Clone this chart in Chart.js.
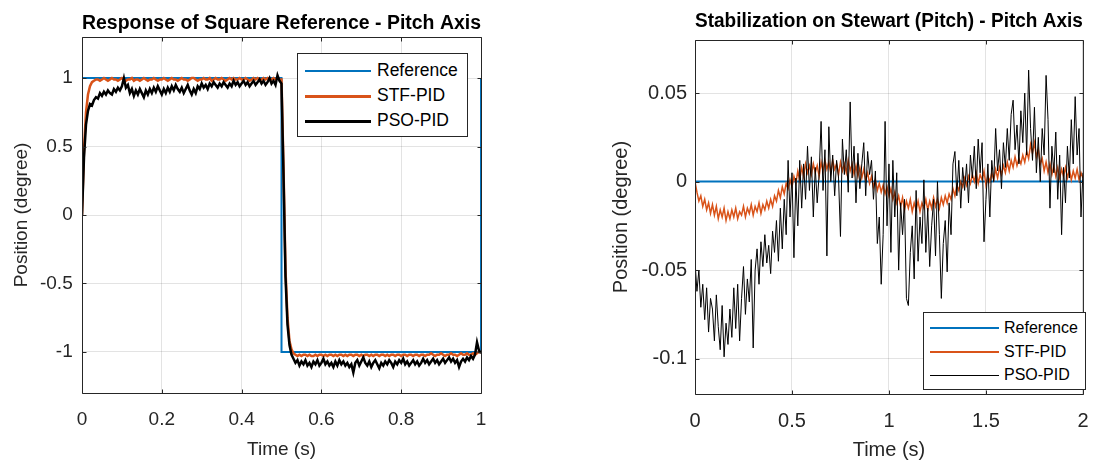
<!DOCTYPE html>
<html>
<head>
<meta charset="utf-8">
<script src="https://cdn.jsdelivr.net/npm/chart.js@4.4.1/dist/chart.umd.min.js"></script>
<style>
  body { margin: 0; background: #fff; width: 1104px; height: 462px; position: relative; overflow: hidden;
         font-family: "Liberation Sans", Arial, sans-serif; }
  canvas { position: absolute; top: 0; }
  .legend { position: absolute; background: #fff; border: 1px solid #262626; box-sizing: border-box; }
  .legend .sw { position: absolute; }
  .legend .txt { position: absolute; color: #000; white-space: nowrap; line-height: 1; transform: translateY(-50%); }
</style>
</head>
<body>
<canvas id="leftChart" width="552" height="462" style="left:0"></canvas>
<canvas id="rightChart" width="552" height="462" style="left:552px"></canvas>
<div id="leftLegend" class="legend" style="left:297px;top:53px;width:171px;height:84px"></div>
<div id="rightLegend" class="legend" style="left:923px;top:312px;width:163px;height:78px"></div>
<script>
// ---- left plot: square reference response ----
const leftXTicks = [0, 0.2, 0.4, 0.6, 0.8, 1];
const leftYTicks = [-1, -0.5, 0, 0.5, 1];
const leftRefTime = [0, 0, 0.5, 0.5, 1, 1];
const leftRefVal = [0, 1, 1, -1, -1, 1];
const leftStep = 0.005;   // sample spacing of the two responses (s)
const leftStf = [
  0, 0.48, 0.75, 0.88, 0.94, 0.97, 0.98, 0.99,
  0.99, 0.98, 0.99, 1.00, 0.99, 0.98, 0.99, 1.00, 0.99, 0.99, 0.98, 0.99,
  1.00, 0.99, 0.98, 0.99, 0.99, 1.00, 0.98, 0.99, 0.99, 0.98, 0.99, 1.00, 0.99, 0.98, 0.99, 0.99, 1.00, 0.99, 0.98, 0.99,
  0.99, 1.00, 0.99, 0.98, 0.99, 1.00, 0.99, 0.99, 0.98, 0.99, 1.00, 0.99, 0.99, 0.98, 0.99, 1.00, 1.00, 0.99, 0.98, 0.99,
  0.99, 1.00, 0.99, 0.99, 1.00, 0.98, 0.99, 1.00, 0.99, 0.99, 1.00, 0.99, 0.98, 0.99, 1.00, 0.99, 1.00, 0.99, 0.99, 1.00,
  0.99, 0.99, 1.00, 0.99, 0.98, 0.99, 1.00, 0.99, 1.00, 0.99, 0.99, 1.00, 0.99, 1.00, 0.99, 0.99, 1.00, 0.99, 1.00, 0.99,
  0.99,
  0.35, -0.40, -0.75, -0.92, -0.98, -1.01, -1.02,
  -1.03, -1.02, -1.03, -1.02, -1.02, -1.03, -1.02, -1.03, -1.03, -1.02, -1.03, -1.02, -1.02, -1.03, -1.02, -1.03, -1.02, -1.02, -1.03, -1.02,
  -1.03, -1.02, -1.02, -1.03, -1.02, -1.03, -1.02, -1.02, -1.03, -1.02, -1.02, -1.03, -1.02, -1.03, -1.02, -1.02, -1.03, -1.02, -1.03, -1.02,
  -1.02, -1.03, -1.02, -1.02, -1.03, -1.02, -1.03, -1.02, -1.02, -1.03, -1.02, -1.02, -1.03, -1.02, -1.02, -1.03, -1.02, -1.02, -1.03, -1.02,
  -1.02, -1.03, -1.02, -1.02, -1.03, -1.02, -1.02, -1.01, -1.02, -1.03, -1.02, -1.02, -1.01, -1.02, -1.03, -1.02, -1.02, -1.01, -1.02, -1.02,
  -1.03, -1.02, -1.01, -1.02, -1.02, -1.01, -1.02, -1.02, -1.01, -1.02, -1.01, -1.00, -1.00
];
const leftPso = [
  0, 0.42, 0.66, 0.76, 0.81, 0.80, 0.84, 0.86, 0.85, 0.89, 0.87, 0.90, 0.88, 0.91, 0.89, 0.88, 0.92, 0.90, 0.93, 0.91,
  0.94, 1.00, 0.93, 0.95, 0.89, 0.92, 0.87, 0.91, 0.88, 0.92, 0.89, 0.86, 0.91, 0.88, 0.92, 0.89, 0.93, 0.90, 0.94, 0.91,
  0.88, 0.92, 0.89, 0.93, 0.90, 0.94, 0.91, 0.95, 0.92, 0.90, 0.93, 0.89, 0.92, 0.95, 0.91, 0.88, 0.92, 0.89, 0.94, 0.92,
  0.96, 0.93, 0.95, 0.92, 0.96, 0.94, 0.97, 0.95, 0.93, 0.96, 0.94, 0.97, 0.95, 0.93, 0.96, 0.94, 0.98, 0.95, 0.97, 0.94,
  0.96, 0.98, 0.95, 0.97, 0.94, 0.96, 0.98, 0.95, 0.97, 0.99, 0.96, 0.98, 0.95, 0.97, 1.00, 0.96, 0.98, 0.95, 1.02, 0.98,
  0.96, 0.30, -0.45, -0.80, -0.95, -1.02, -1.05, -1.08, -1.06, -1.10, -1.07, -1.09, -1.06, -1.10, -1.08, -1.11, -1.07, -1.09, -1.06, -1.10,
  -1.08, -1.05, -1.09, -1.07, -1.10, -1.08, -1.11, -1.07, -1.10, -1.06, -1.09, -1.07, -1.10, -1.08, -1.11, -1.09, -1.15, -1.08, -1.06, -1.10,
  -1.07, -1.04, -1.08, -1.10, -1.07, -1.11, -1.08, -1.06, -1.09, -1.12, -1.08, -1.10, -1.07, -1.09, -1.06, -1.08, -1.11, -1.07, -1.09, -1.06,
  -1.08, -1.05, -1.09, -1.07, -1.10, -1.08, -1.06, -1.09, -1.07, -1.10, -1.08, -1.05, -1.08, -1.06, -1.09, -1.07, -1.05, -1.08, -1.06, -1.09,
  -1.07, -1.05, -1.08, -1.06, -1.04, -1.07, -1.05, -1.08, -1.06, -1.11, -1.07, -1.05, -1.07, -1.04, -1.06, -1.03, -1.05, -1.02, -0.93, -0.99, -1.01
];

// ---- right plot: stabilization on stewart ----
const rightXTicks = [0, 0.5, 1, 1.5, 2];
const rightYTicks = [-0.1, -0.05, 0, 0.05];
const rightRefTime = [0, 2];
const rightRefVal = [0, 0];
const rightStep = 0.01;
const rightStf = [
  0.000, -0.006, -0.011, -0.008, -0.014, -0.010, -0.016, -0.012, -0.018, -0.013,
  -0.019, -0.014, -0.021, -0.016, -0.020, -0.015, -0.022, -0.017, -0.021, -0.016,
  -0.020, -0.015, -0.021, -0.017, -0.019, -0.014, -0.020, -0.015, -0.018, -0.013,
  -0.019, -0.014, -0.017, -0.012, -0.018, -0.013, -0.016, -0.011, -0.015, -0.010,
  -0.014, -0.008, -0.011, -0.005, -0.009, -0.003, -0.007, -0.001, -0.004, 0.001,
  -0.003, 0.003, -0.001, 0.006, 0.001, 0.008, 0.003, 0.010, 0.005, 0.009,
  0.004, 0.010, 0.005, 0.009, 0.003, 0.011, 0.006, 0.012, 0.007, 0.011,
  0.005, 0.012, 0.007, 0.010, 0.004, 0.011, 0.006, 0.010, 0.005, 0.012,
  0.006, 0.010, 0.004, 0.009, 0.003, 0.008, 0.002, 0.007, 0.001, 0.005,
  -0.001, 0.003, -0.003, 0.001, -0.005, -0.001, -0.006, -0.002, -0.007, -0.003,
  -0.008, -0.004, -0.010, -0.006, -0.012, -0.008, -0.014, -0.009, -0.016, -0.011,
  -0.015, -0.010, -0.017, -0.012, -0.016, -0.011, -0.017, -0.012, -0.015, -0.010,
  -0.016, -0.011, -0.015, -0.009, -0.014, -0.010, -0.015, -0.009, -0.013, -0.008,
  -0.012, -0.007, -0.010, -0.004, -0.008, -0.002, -0.005, 0.000, -0.003, 0.002,
  -0.002, 0.003, -0.001, 0.004, 0.000, 0.005, -0.001, 0.004, 0.001, 0.006,
  -0.002, 0.003, 0.000, 0.005, 0.001, 0.007, 0.002, 0.008, 0.004, 0.009,
  0.005, 0.011, 0.006, 0.012, 0.008, 0.014, 0.009, 0.013, 0.010, 0.015,
  0.011, 0.017, 0.013, 0.021, 0.016, 0.022, 0.014, 0.018, 0.010, 0.013,
  0.006, 0.011, 0.005, 0.010, 0.004, 0.009, 0.003, 0.008, 0.002, 0.007,
  0.003, 0.008, 0.002, 0.007, 0.001, 0.006, 0.002, 0.007, 0.001, 0.005,
  0.002
];
const rightPso = [
  -0.045, -0.062, -0.050, -0.071, -0.058, -0.078, -0.060, -0.085, -0.066, -0.072,
  -0.090, -0.064, -0.082, -0.095, -0.070, -0.099, -0.080, -0.092, -0.072, -0.088,
  -0.060, -0.083, -0.058, -0.090, -0.066, -0.048, -0.075, -0.055, -0.068, -0.044,
  -0.094, -0.050, -0.038, -0.058, -0.034, -0.048, -0.030, -0.046, -0.036, -0.052,
  -0.028, -0.040, -0.022, -0.045, -0.015, -0.038, -0.010, -0.030, 0.012, -0.020,
  0.005, -0.043, 0.002, -0.025, 0.012, -0.015, 0.010, -0.010, 0.020, -0.005,
  0.014, -0.020, 0.008, -0.012, 0.004, 0.034, -0.005, 0.018, -0.042, 0.031,
  0.000, 0.015, -0.008, 0.012, 0.002, -0.031, 0.024, 0.004, 0.018, -0.006,
  0.045, 0.002, 0.020, -0.012, 0.016, -0.004, 0.010, 0.022, -0.008, 0.017,
  0.004, 0.012, -0.010, 0.006, -0.035, -0.020, -0.058, -0.030, 0.034, -0.025,
  0.010, -0.040, 0.012, -0.020, 0.005, -0.050, -0.012, -0.030, -0.010, -0.066,
  -0.070, -0.040, -0.025, -0.055, -0.005, -0.045, -0.020, -0.035, 0.001, -0.040,
  -0.015, -0.048, -0.025, -0.010, -0.042, 0.000, -0.030, -0.066, -0.035, -0.022,
  -0.051, -0.012, -0.030, 0.010, 0.017, -0.008, 0.012, -0.015, 0.008, -0.005,
  0.010, -0.012, 0.015, 0.002, 0.020, -0.004, 0.024, 0.005, 0.022, -0.034,
  -0.010, 0.010, -0.020, 0.012, 0.000, 0.030, 0.006, 0.018, -0.004, 0.022,
  0.008, 0.030, 0.012, 0.038, 0.046, 0.018, 0.032, 0.010, 0.040, 0.022,
  0.050, 0.015, 0.063, 0.030, 0.012, 0.042, 0.005, 0.025, 0.000, 0.030,
  0.015, 0.060, 0.035, -0.015, 0.020, 0.005, 0.028, -0.010, 0.015, -0.030,
  0.008, -0.012, 0.020, 0.002, 0.035, 0.010, 0.048, 0.015, 0.030, -0.020,
  0.005
];

const BLUE = '#0072BD', ORANGE = '#D95319', BLACK = '#000000';
const AXIS = '#262626', GRID = 'rgba(38,38,38,0.13)';
const FAMILY = '"Liberation Sans", Arial, sans-serif';

function pairs(times, vals) { return vals.map((v, i) => ({ x: times[i], y: v })); }
function sampled(step, vals) { return vals.map((v, i) => ({ x: i * step, y: v })); }

// matlab style box with inward ticks on all four sides
const boxPlugin = {
  id: 'matlabBox',
  afterDatasetsDraw(chart) {
    const { ctx, chartArea: a, scales } = chart;
    const L = a.left + 0.5, R = a.right + 0.5, T = a.top + 0.5, B = a.bottom + 0.5;
    ctx.save();
    ctx.strokeStyle = AXIS;
    ctx.lineWidth = 1;
    ctx.beginPath();
    ctx.rect(L, T, R - L, B - T);
    scales.x.ticks.forEach(t => {
      const px = Math.round(scales.x.getPixelForValue(t.value)) + 0.5;
      ctx.moveTo(px, B); ctx.lineTo(px, B - 4);
      ctx.moveTo(px, T); ctx.lineTo(px, T + 4);
    });
    scales.y.ticks.forEach(t => {
      const py = Math.round(scales.y.getPixelForValue(t.value)) + 0.5;
      ctx.moveTo(L, py); ctx.lineTo(L + 4, py);
      ctx.moveTo(R, py); ctx.lineTo(R - 4, py);
    });
    ctx.stroke();
    ctx.restore();
  }
};

function makeChart(id, c) {
  const tickFont = { family: FAMILY, size: c.fontSize };
  return new Chart(document.getElementById(id), {
    type: 'line',
    data: { datasets: c.datasets },
    options: {
      responsive: false,
      animation: false,
      devicePixelRatio: 1,
      layout: { padding: c.padding },
      elements: { point: { radius: 0 }, line: { tension: 0 } },
      plugins: {
        legend: { display: false },
        tooltip: { enabled: false },
        title: {
          display: true, text: c.title, fullSize: false, color: '#000',
          font: { family: FAMILY, size: 20, weight: 'bold' },
          padding: c.titlePad
        }
      },
      scales: {
        x: {
          type: 'linear', min: c.xMin, max: c.xMax,
          afterBuildTicks: s => { s.ticks = c.xTicks.map(v => ({ value: v })); },
          afterFit: s => { s.height = c.xHeight; },
          ticks: { font: tickFont, color: AXIS, padding: c.xTickPad, maxRotation: 0, callback: v => String(v) },
          grid: { color: GRID, drawTicks: false },
          border: { display: false },
          title: { display: true, text: 'Time (s)', font: tickFont, color: AXIS, padding: { top: 0, bottom: c.xTitlePad } }
        },
        y: {
          type: 'linear', min: c.yMin, max: c.yMax,
          afterBuildTicks: s => { s.ticks = c.yTicks.map(v => ({ value: v })); },
          afterFit: s => { s.width = c.yWidth; },
          ticks: { font: tickFont, color: AXIS, padding: c.yTickPad, callback: v => String(v) },
          grid: { color: GRID, drawTicks: false },
          border: { display: false },
          title: { display: true, text: 'Position (degree)', font: tickFont, color: AXIS, padding: { top: c.yTitlePad, bottom: 0 } }
        }
      }
    },
    plugins: [boxPlugin]
  });
}

function htmlLegend(boxId, chart, o) {
  const box = document.getElementById(boxId);
  chart.data.datasets.forEach((ds, i) => {
    const y = Math.round(o.rowTop + i * o.rowGap);
    const h = Math.max(1, Math.round(ds.borderWidth));
    const sw = document.createElement('div');
    sw.className = 'sw';
    sw.style.left = o.lineX0 + 'px';
    sw.style.width = (o.lineX1 - o.lineX0) + 'px';
    sw.style.top = (y - Math.floor(h / 2)) + 'px';
    sw.style.height = h + 'px';
    sw.style.background = ds.borderColor;
    box.appendChild(sw);
    const tx = document.createElement('div');
    tx.className = 'txt';
    tx.style.left = o.textX + 'px';
    tx.style.top = y + 'px';
    tx.style.fontSize = o.fontSize + 'px';
    tx.textContent = ds.label;
    box.appendChild(tx);
  });
}

const leftChart = makeChart('leftChart', {
  title: 'Response of Square Reference - Pitch Axis',
  fontSize: 19,
  padding: { left: 0, right: 71, top: 0, bottom: 0 },
  titlePad: { top: 11.7, bottom: 1.3 },
  xMin: 0, xMax: 1, xTicks: leftXTicks, xHeight: 69, xTickPad: 15.3, xTitlePad: 1.3,
  yMin: -1.3, yMax: 1.3, yTicks: leftYTicks, yWidth: 82, yTickPad: 9.3, yTitlePad: 10.6,
  datasets: [
    { label: 'Reference', data: pairs(leftRefTime, leftRefVal), borderColor: BLUE, borderWidth: 2, order: 3 },
    { label: 'STF-PID', data: sampled(leftStep, leftStf), borderColor: ORANGE, borderWidth: 2.5, order: 2 },
    { label: 'PSO-PID', data: sampled(leftStep, leftPso), borderColor: BLACK, borderWidth: 2.5, order: 1 }
  ]
});

const rightChart = makeChart('rightChart', {
  title: 'Stabilization on Stewart (Pitch) - Pitch Axis',
  fontSize: 20,
  padding: { left: 0, right: 11, top: 0, bottom: 0 },
  titlePad: { top: 9.2, bottom: 6.8 },
  xMin: 0, xMax: 2, xTicks: rightXTicks, xHeight: 68, xTickPad: 15.5, xTitlePad: 0,
  yMin: -0.12, yMax: 0.08, yTicks: rightYTicks, yWidth: 143, yTickPad: 8, yTitlePad: 57.6,
  datasets: [
    { label: 'Reference', data: pairs(rightRefTime, rightRefVal), borderColor: BLUE, borderWidth: 2, order: 3 },
    { label: 'STF-PID', data: sampled(rightStep, rightStf), borderColor: ORANGE, borderWidth: 1.5, order: 2 },
    { label: 'PSO-PID', data: sampled(rightStep, rightPso), borderColor: BLACK, borderWidth: 1, order: 1 }
  ]
});

htmlLegend('leftLegend', leftChart, { rowTop: 17, rowGap: 25, lineX0: 7, lineX1: 73, textX: 79, fontSize: 17.5 });
htmlLegend('rightLegend', rightChart, { rowTop: 15.3, rowGap: 23.4, lineX0: 6, lineX1: 75, textX: 80, fontSize: 16 });
</script>
</body>
</html>
